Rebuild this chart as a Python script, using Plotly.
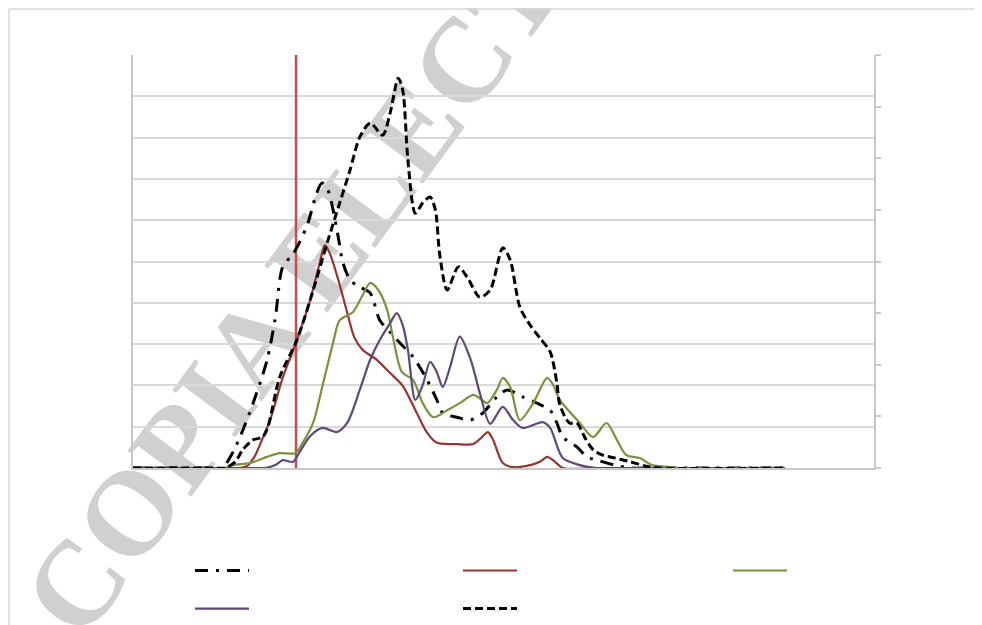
import plotly.graph_objects as go

# ---- data (x: position along the horizontal axis 0-100, y: primary axis 0-100) ----
x_dashdot = [0, 10, 12.0, 13.5, 15.1, 16.7, 18.1, 19.2, 20.2, 21.5, 22.5, 23.6, 24.8, 25.5, 26.3, 27.0, 27.7, 28.3, 29.3, 30.6,
             32.0, 33.3, 34.7, 36.0, 37.8, 39.7, 41.0, 41.8, 43.7, 45.5, 47.2, 49.1, 50.5, 52.6, 54.5, 56.3, 57.2, 58.0, 59.9, 61.3,
             63.0, 65.0, 67.1, 70, 88]
y_dashdot = [0, 0, 0, 3.9, 10.4, 18.2, 26.2, 36.3, 48.7, 51.6, 54.7, 59.3, 66.6, 69.0, 67.3, 62.5, 55.9, 49.9, 45.5, 43.8,
             42.4, 35.8, 32.9, 30.3, 26.9, 21.3, 16.5, 13.3, 12.3, 11.6, 13.3, 17.2, 18.9, 17.2, 15.7, 14.0, 10.9, 7.5, 5.1, 2.7,
             1.7, 0.7, 0, 0, 0]

x_red = [0, 13.1, 14.4, 15.4, 16.5, 17.4, 18.5, 20.2, 22.1, 23.9, 25.2, 25.9, 26.6, 27.9, 29.0, 29.9, 31.0, 32.9, 34.7, 36.4,
         38.3, 39.7, 41.0, 43.7, 45.9, 47.1, 47.9, 48.6, 49.9, 51.3, 53.6, 54.9, 55.9, 56.7, 58.0, 63.0, 88]
y_red = [0, 0, 0, 0.5, 3.1, 6.8, 11.6, 21.8, 30.9, 40.6, 49.7, 54.0, 51.8, 44.3, 37.0, 31.5, 28.6, 26.2, 23.0, 19.9,
         13.3, 8.5, 6.1, 5.8, 5.8, 7.5, 8.7, 6.8, 1.2, 0.2, 0.7, 1.5, 2.7, 1.9, 0, 0, 0]

x_green = [0, 11.1, 12.4, 13.5, 15.8, 18.1, 19.8, 21.9, 22.9, 24.3, 25.6, 27.0, 27.9, 29.7, 31.0, 32.0, 33.1, 34.3, 35.1, 36.3,
           37.8, 39.1, 40.5, 42.4, 44.1, 45.9, 46.8, 47.8, 49.1, 49.9, 50.9, 52.2, 54.0, 55.9, 56.7, 57.6, 60.3, 62.1, 63.9, 65.3,
           66.6, 68.4, 70.1, 72.8, 73.8, 88]
y_green = [0, 0, 0, 0.7, 1.2, 2.7, 3.6, 3.6, 6.1, 10.9, 20.1, 30.3, 35.8, 37.8, 41.9, 44.8, 43.1, 38.3, 31.5, 23.2,
           21.3, 15.7, 12.3, 14.0, 15.7, 17.7, 16.9, 15.7, 18.9, 21.8, 19.6, 11.6, 15.7, 21.8, 20.1, 16.5, 10.9, 7.5, 10.9, 6.8,
           3.1, 2.4, 0.7, 0.2, 0, 0]

x_purple = [0, 16.5, 17.8, 19.2, 20.2, 21.6, 22.5, 23.9, 25.6, 27.5, 28.9, 30.6, 32.0, 33.3, 34.7, 35.6, 36.4, 37.1, 38.1, 39.1,
            40.1, 41.0, 41.8, 42.8, 44.1, 45.5, 46.8, 48.2, 49.9, 51.3, 52.6, 55.3, 56.3, 58.0, 60.3, 62.6, 88]
y_purple = [0, 0, 0, 0.7, 1.9, 1.5, 3.9, 7.7, 9.7, 8.7, 10.9, 18.9, 26.2, 31.0, 35.1, 37.5, 34.6, 28.6, 16.5, 20.1,
            25.7, 23.2, 19.6, 24.5, 31.8, 26.6, 18.2, 10.7, 14.8, 11.6, 9.7, 11.1, 9.7, 2.4, 0.7, 0, 0]

x_dashed = [0, 11.1, 12.4, 13.8, 14.8, 16.2, 17.5, 18.2, 19.8, 22.1, 23.9, 26.2, 27.9, 29.3, 30.6, 32.0, 33.7, 34.7, 35.8, 36.4,
            37.1, 38.1, 39.1, 40.1, 40.8, 41.4, 42.4, 43.9, 45.1, 46.8, 48.2, 49.9, 50.9, 52.2, 53.6, 54.9, 56.3, 57.2, 57.6, 58.9,
            59.9, 61.0, 62.1, 63.4, 65.1, 67.1, 69.1, 71.1, 88]
y_dashed = [0, 0, 0, 1.5, 4.4, 6.8, 7.5, 9.9, 22.0, 30.9, 40.6, 54.5, 64.2, 72.2, 80.1, 83.5, 80.6, 86.0, 94.4, 91.5,
            74.6, 61.7, 64.2, 65.6, 62.5, 51.6, 43.1, 48.7, 46.2, 41.4, 43.1, 53.3, 50.4, 39.0, 34.6, 31.5, 28.1, 20.6, 15.3, 10.9,
            10.9, 7.3, 4.4, 3.1, 2.4, 1.5, 0.5, 0, 0]

marker_x = [22.0, 22.0]
marker_y = [0, 100]

watermark_text = "COPIA ELECTRÓNICA"

fig = go.Figure()

fig.add_trace(go.Scatter(x=marker_x, y=marker_y, mode="lines", showlegend=False,
                         line=dict(color="#C0504D", width=2.5), hoverinfo="skip"))

common = dict(mode="lines", line_shape="spline")
fig.add_trace(go.Scatter(x=x_dashdot, y=y_dashdot, name="", legend="legend", **common,
                         line=dict(color="black", width=3, dash="13px,8px,3px,8px", smoothing=0.8)))
fig.add_trace(go.Scatter(x=x_red, y=y_red, name=" ", legend="legend2", **common,
                         line=dict(color="#943634", width=2.2, smoothing=0.8)))
fig.add_trace(go.Scatter(x=x_green, y=y_green, name="  ", legend="legend3", **common,
                         line=dict(color="#77933C", width=2.2, smoothing=0.8)))
fig.add_trace(go.Scatter(x=x_purple, y=y_purple, name="   ", legend="legend", **common,
                         line=dict(color="#5F497A", width=2.2, smoothing=0.8)))
fig.add_trace(go.Scatter(x=x_dashed, y=y_dashed, name="    ", legend="legend2", **common,
                         line=dict(color="black", width=3, dash="8px,4px", smoothing=0.8)))
# secondary axis carrier (no visible data)
fig.add_trace(go.Scatter(x=[None], y=[None], yaxis="y2", showlegend=False))

grey = "#C8C8C8"
leg = dict(orientation="v", y=-0.19, xanchor="left", yanchor="top", itemwidth=54,
           font=dict(size=27), bgcolor="rgba(0,0,0,0)", tracegroupgap=0)
fig.update_layout(
    width=982, height=625,
    margin=dict(l=125, r=116, t=47, b=165, autoexpand=False),
    paper_bgcolor="white", plot_bgcolor="rgba(0,0,0,0)",
    font=dict(family="Liberation Serif"),
    xaxis=dict(range=[0, 100], showgrid=False, zeroline=False, showticklabels=False,
               showline=True, linecolor=grey, linewidth=2, ticks=""),
    yaxis=dict(range=[0, 100], dtick=10, showgrid=True, gridcolor="#D9D9D9", gridwidth=1.5,
               zeroline=False, showticklabels=False, showline=True, linecolor=grey, linewidth=2, ticks=""),
    yaxis2=dict(range=[0, 8], dtick=1, overlaying="y", side="right", showgrid=False, zeroline=False,
                showticklabels=False, showline=True, linecolor=grey, linewidth=2,
                ticks="outside", ticklen=5, tickcolor=grey, tickwidth=1.5),
    legend=dict(leg, x=0.0769),
    legend2=dict(leg, x=0.4386),
    legend3=dict(leg, x=0.803),
    showlegend=True,
)

# watermark, drawn beneath the grid and data
fig.add_shape(type="line", xref="paper", yref="paper", layer="below",
              x0=0.1559, y0=0.3360, x1=0.6376, y1=1.5041,
              line=dict(width=0, color="rgba(0,0,0,0)"),
              label=dict(text=watermark_text, textposition="middle", yanchor="middle",
                         font=dict(family="Liberation Serif", size=120, color="#D0D0D0", weight="bold")))

# outer chart frame (top and left edges visible)
fig.add_shape(type="line", xref="paper", yref="paper", x0=-0.1673, x1=1.146, y0=1.1114, y1=1.1114,
              line=dict(color="#D9D9D9", width=1.5))
fig.add_shape(type="line", xref="paper", yref="paper", x0=-0.1673, x1=-0.1673, y0=-0.39, y1=1.1114,
              line=dict(color="#D9D9D9", width=1.5))

fig.write_html("out.html")
